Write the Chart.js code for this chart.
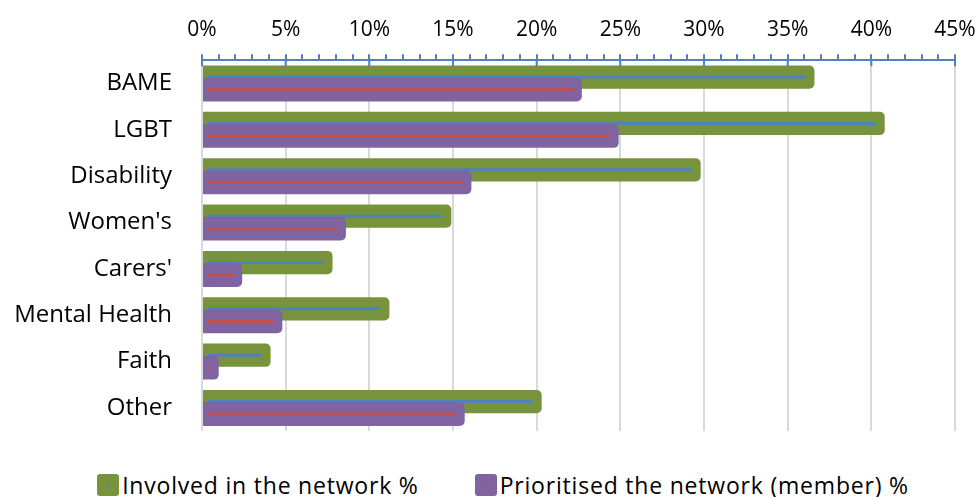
<!DOCTYPE html>
<html>
<head>
<meta charset="utf-8">
<script src="https://cdn.jsdelivr.net/npm/chart.js@4.4.1/dist/chart.umd.min.js"></script>
<style>
  html, body { margin: 0; padding: 0; background: #fff; }
  #wrap { position: relative; width: 979px; height: 497px; }
  #chart { position: absolute; left: 0; top: 0; }
  #legend {
    position: absolute; left: 0; top: 469px; width: 979px;
    display: flex; justify-content: center; gap: 56px;
    padding-left: 27px; box-sizing: border-box;
    font-family: 'Open Sans', sans-serif; font-size: 23px; letter-spacing: 0.8px; color: #000;
  }
  .item { display: flex; align-items: center; }
  .box { width: 22px; height: 22px; border-radius: 3px; margin-right: 3px; position: relative; }
  .box i { position: absolute; left: 10px; top: 10px; width: 3px; height: 3px; }
</style>
</head>
<body>
<div id="wrap">
  <canvas id="chart" width="979" height="460"></canvas>
  <div id="legend"></div>
</div>
<script>
// Chart values
const categories = ['BAME', 'LGBT', 'Disability', "Women's", "Carers'", 'Mental Health', 'Faith', 'Other'];
const involvedPct = [36.6, 40.8, 29.8, 14.9, 7.8, 11.2, 4.1, 20.3];
const prioritisedPct = [22.7, 24.9, 16.1, 8.6, 2.4, 4.8, 1.0, 15.7];
const seriesNames = ['Involved in the network %', 'Prioritised the network (member) %'];
const axisMin = 0;
const axisMax = 45;

const GREEN = '#77933C';
const PURPLE = '#8064A2';
const BLUE = '#4F81BD';
const RED = '#C0504D';
const lineColors = [BLUE, RED];

// thin coloured line inside each bar
function drawInnerLines(chart, dsIndex) {
  const ctx = chart.ctx;
  const meta = chart.getDatasetMeta(dsIndex);
  ctx.save();
  ctx.strokeStyle = lineColors[dsIndex];
  ctx.lineWidth = 3;
  meta.data.forEach(bar => {
    const { x, y, base } = bar.getProps(['x', 'y', 'base'], true);
    const start = base + 5;
    const end = x - 9;
    if (end <= start) return;
    ctx.beginPath();
    ctx.moveTo(start, y);
    ctx.lineTo(end, y);
    ctx.stroke();
  });
  ctx.restore();
}

const barLayers = {
  id: 'barLayers',
  beforeDatasetDraw(chart, args) {
    // purple bars are drawn later so they sit over the blue line
    if (args.index === 1) return false;
  },
  afterDatasetsDraw(chart) {
    drawInnerLines(chart, 0);
    chart.getDatasetMeta(1).controller.draw();
    drawInnerLines(chart, 1);
  }
};

// major ticks cross the axis line a little
const majorTicks = {
  id: 'majorTicks',
  afterDraw(chart) {
    const scale = chart.scales.x;
    const ctx = chart.ctx;
    const top = chart.chartArea.top;
    ctx.save();
    ctx.strokeStyle = BLUE;
    ctx.lineWidth = 2;
    for (let v = axisMin; v <= axisMax; v += 5) {
      const px = scale.getPixelForValue(v);
      ctx.beginPath();
      ctx.moveTo(px, top - 1);
      ctx.lineTo(px, top + 6);
      ctx.stroke();
    }
    ctx.restore();
  }
};

const chart = new Chart(document.getElementById('chart'), {
  type: 'bar',
  data: {
    labels: categories,
    datasets: [
      {
        label: seriesNames[0],
        data: involvedPct,
        backgroundColor: GREEN,
        borderRadius: 5,
        categoryPercentage: 0.54,
        barPercentage: 1.86
      },
      {
        label: seriesNames[1],
        data: prioritisedPct,
        backgroundColor: PURPLE,
        borderRadius: 5,
        categoryPercentage: 0.54,
        barPercentage: 1.9
      }
    ]
  },
  options: {
    indexAxis: 'y',
    responsive: false,
    animation: false,
    layout: { padding: { top: 5, right: 24, bottom: 29, left: 0 } },
    scales: {
      x: {
        position: 'top',
        min: axisMin,
        max: axisMax,
        afterFit: scale => { scale.paddingRight = 0; },
        ticks: {
          stepSize: 1,
          autoSkip: false,
          maxRotation: 0,
          padding: 12,
          color: '#000',
          font: { family: 'Open Sans', size: 21 },
          callback: v => v % 5 === 0 ? v + '%' : ''
        },
        grid: {
          color: ctx => (ctx.tick && ctx.tick.value % 5 === 0) ? '#D9D9D9' : 'rgba(0,0,0,0)',
          lineWidth: 2,
          tickColor: BLUE,
          tickLength: 6,
          tickWidth: 2
        },
        border: { color: BLUE, width: 2 }
      },
      y: {
        afterFit: scale => {
          scale.width = 202;
          scale.paddingTop = 0;
          scale.paddingBottom = 0;
        },
        ticks: {
          color: '#000',
          padding: 22,
          font: { family: 'Open Sans', size: 24 }
        },
        grid: { display: false },
        border: { display: false }
      }
    },
    plugins: {
      legend: { display: false },
      tooltip: { enabled: false }
    }
  },
  plugins: [barLayers, majorTicks]
});

// legend below the chart
const legendEl = document.getElementById('legend');
chart.data.datasets.forEach((ds, i) => {
  const item = document.createElement('div');
  item.className = 'item';
  item.innerHTML = `<span class="box" style="background:${ds.backgroundColor}"><i style="background:${lineColors[i]}"></i></span><span>${ds.label}</span>`;
  legendEl.appendChild(item);
});
</script>
</body>
</html>
